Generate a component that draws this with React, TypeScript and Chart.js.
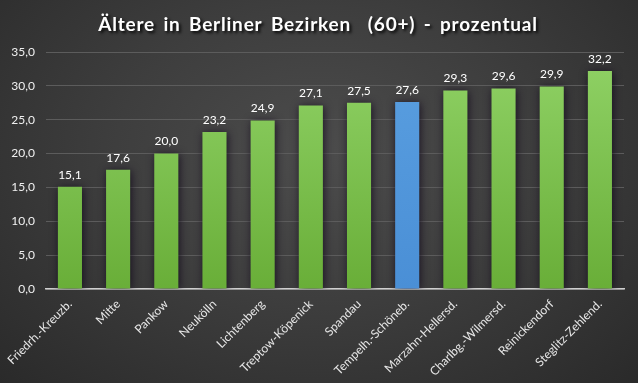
import React, { useEffect, useRef } from "react";
import { Chart, registerables } from "chart.js";

Chart.register(...registerables);

const TITLE = "Ältere in Berliner Bezirken  (60+) - prozentual";
const categories = [
  "Friedrh.-Kreuzb.",
  "Mitte",
  "Pankow",
  "Neukölln",
  "Lichtenberg",
  "Treptow-Köpenick",
  "Spandau",
  "Tempelh.-Schöneb.",
  "Marzahn-Hellersd.",
  "Charlbg.-Wilmersd.",
  "Reinickendorf",
  "Steglitz-Zehlend.",
];
const values = [15.1, 17.6, 20.0, 23.2, 24.9, 27.1, 27.5, 27.6, 29.3, 29.6, 29.9, 32.2];
const highlightIndex = 7;
const yMax = 35;
const yStep = 5;

const fmt = (v: number) => v.toFixed(1).replace(".", ",");

const W = 638;
const H = 383;
const FONT = "Lato, 'Open Sans', sans-serif";

export default function App() {
  const ref = useRef<HTMLCanvasElement | null>(null);

  useEffect(() => {
    document.body.style.margin = "0";
    const canvas = ref.current!;

    const titlePlugin = {
      id: "titleShadow",
      afterDraw(chart: any) {
        const ctx = chart.ctx;
        ctx.save();
        let size = 24;
        (ctx as any).letterSpacing = "0.8px";
        (ctx as any).wordSpacing = "3px";
        ctx.font = `bold ${size}px ${FONT}`;
        while (ctx.measureText(TITLE).width > 446 && size > 10) {
          size -= 0.5;
          ctx.font = `bold ${size}px ${FONT}`;
        }
        ctx.textAlign = "center";
        ctx.textBaseline = "alphabetic";
        ctx.shadowColor = "rgba(0,0,0,0.9)";
        ctx.shadowBlur = 3;
        ctx.shadowOffsetX = 2;
        ctx.shadowOffsetY = 2;
        ctx.fillStyle = "#ffffff";
        ctx.fillText(TITLE, 318, 31);
        ctx.restore();
      },
    };

    const shadowPlugin = {
      id: "barShadow",
      beforeDatasetDraw(chart: any) {
        const ctx = chart.ctx;
        ctx.save();
        ctx.shadowColor = "rgba(18,8,28,0.85)";
        ctx.shadowBlur = 9;
        ctx.shadowOffsetX = 1;
        ctx.shadowOffsetY = 1;
      },
      afterDatasetDraw(chart: any) {
        chart.ctx.restore();
      },
    };

    const labelPlugin = {
      id: "valueLabels",
      afterDatasetsDraw(chart: any) {
        const ctx = chart.ctx;
        const meta = chart.getDatasetMeta(0);
        ctx.save();
        ctx.font = `12px ${FONT}`;
        ctx.fillStyle = "#ffffff";
        ctx.textAlign = "center";
        ctx.textBaseline = "bottom";
        meta.data.forEach((bar: any, i: number) => {
          ctx.fillText(fmt(values[i]), bar.x, bar.y - 6);
        });
        ctx.restore();
      },
    };

    const chart = new Chart(canvas, {
      type: "bar",
      data: {
        labels: categories,
        datasets: [
          {
            data: values,
            backgroundColor: (c: any) => {
              const { chart: ch, dataIndex } = c;
              const area = ch.chartArea;
              if (!area) return "#78bb48";
              const g = ch.ctx.createLinearGradient(0, area.top, 0, area.bottom);
              if (dataIndex === highlightIndex) {
                g.addColorStop(0, "#5a9fe0");
                g.addColorStop(1, "#4a8fd6");
              } else {
                g.addColorStop(0, "#90d266");
                g.addColorStop(1, "#69ae38");
              }
              return g;
            },
            borderWidth: 0,
            categoryPercentage: 1,
            barPercentage: 0.5,
          },
        ],
      },
      options: {
        responsive: false,
        animation: false,
        devicePixelRatio: 1,
        layout: { padding: { top: 52, right: 14, left: 0, bottom: 0 } },
        plugins: {
          legend: { display: false },
          title: { display: false },
          tooltip: { enabled: false },
        },
        scales: {
          x: {
            grid: { display: false, drawTicks: false },
            border: { display: true, color: "#d0d0d0", width: 1.5 },
            ticks: {
              color: "#e6e6e6",
              font: { size: 12, family: FONT },
              minRotation: 45,
              maxRotation: 45,
              padding: 8,
            },
            afterFit: (s: any) => {
              s.height = 94;
            },
          },
          y: {
            min: 0,
            max: yMax,
            ticks: {
              stepSize: yStep,
              color: "#f0f0f0",
              font: { size: 12, family: FONT },
              padding: 11,
              callback: (v: any) => fmt(Number(v)),
            },
            grid: { color: "#5c5c5c", drawTicks: false, lineWidth: 1 },
            border: { display: false },
            afterFit: (s: any) => {
              s.width = 44;
            },
          },
        },
      },
      plugins: [shadowPlugin, labelPlugin, titlePlugin],
    });

    return () => chart.destroy();
  }, []);

  return (
    <div
      style={{
        position: "fixed",
        left: 0,
        top: 0,
        width: W,
        height: H,
        background:
          "radial-gradient(ellipse at 50% 40%, #4c4c4c 0%, #3e3e3e 45%, #2a2a2a 100%)",
      }}
    >
      <canvas ref={ref} width={W} height={H} style={{ display: "block" }} />
    </div>
  );
}
